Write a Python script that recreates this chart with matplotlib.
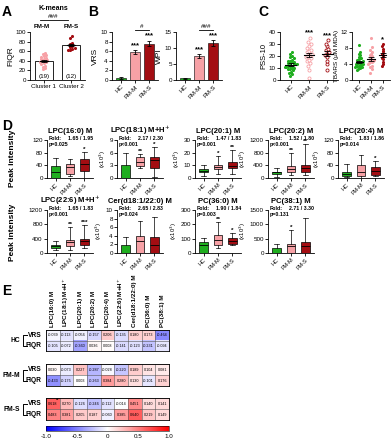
import numpy as np
import matplotlib
matplotlib.use("Agg")
import matplotlib.pyplot as plt

plt.rcParams['font.family'] = ['Liberation Sans', 'DejaVu Sans']
plt.rcParams['font.size'] = 4.5
plt.rcParams['axes.linewidth'] = 0.6
plt.rcParams['xtick.major.width'] = 0.6
plt.rcParams['ytick.major.width'] = 0.6
plt.rcParams['xtick.major.size'] = 2
plt.rcParams['ytick.major.size'] = 2
plt.rcParams['xtick.major.pad'] = 1
plt.rcParams['ytick.major.pad'] = 1

W, H = 392, 440
GREEN = '#1fae1f'
PINK = '#f7a1a6'
DRED = '#a30d12'

# ---------------- data ----------------
# A: K-means FIQR
clusters = ['Cluster 1', 'Cluster 2']
fiqr_c1 = [22, 25, 28, 30, 33, 35, 37, 38, 40, 41, 42, 43, 44, 46, 48, 50, 52, 55, 57]
fiqr_c2 = [62, 63, 65, 66, 68, 70, 71, 73, 75, 78, 88, 92]

# B: bars
groups = ['HC', 'FM-M', 'FM-S']
vrs_mean = [0.5, 5.8, 7.6]
vrs_sem = [0.2, 0.4, 0.6]
wpi_mean = [0.5, 7.5, 11.5]
wpi_sem = [0.2, 0.6, 0.9]

# C: scatter
pss_hc = [3, 5, 6, 7, 8, 9, 9, 10, 10, 11, 11, 12, 12, 12, 13, 13, 13, 14, 14, 15, 15,
          16, 16, 17, 18, 19, 20, 22, 23]
pss_fmm = [2, 8, 12, 14, 16, 17, 18, 19, 20, 21, 22, 23, 24, 25, 27, 28, 30, 32, 35]
pss_fms = [8, 13, 16, 19, 21, 22, 23, 25, 26, 28, 30, 33]
tbars_hc = [2.5, 2.8, 3.0, 3.1, 3.2, 3.3, 3.4, 3.5, 3.6, 3.7, 3.8, 3.9, 4.0, 4.1, 4.2, 4.3,
            4.4, 4.5, 4.6, 4.8, 5.0, 5.2, 5.4, 5.6, 5.8, 6.2, 6.6, 7.0, 8.8]
tbars_fmm = [1.8, 2.8, 3.2, 3.6, 4.0, 4.2, 4.4, 4.6, 4.8, 5.0, 5.3, 5.6, 5.9, 6.2, 6.6, 7.0,
             7.6, 8.2, 10.4]
tbars_fms = [3.4, 4.0, 4.6, 5.2, 5.6, 6.0, 6.4, 6.8, 7.2, 7.8, 8.5, 8.9]

# D: box plots, per group [whislo, q1, med, q3, whishi]
lipids = ['LPC(16:0) M', 'LPC(18:1) M+H$^{+}$', 'LPC(20:1) M', 'LPC(20:2) M', 'LPC(20:4) M',
          'LPC(22:6) M+H$^{+}$', 'Cer(d18:1/22:0) M', 'PC(36:0) M', 'PC(38:1) M']
box_hc = [[0, 0, 18, 37, 63], [0, 0, 0, 3.0, 5.9], [1.2, 4.6, 5.8, 6.9, 10.4],
          [46, 138, 185, 192, 323], [2, 6, 12, 18, 43], [74, 138, 185, 231, 323],
          [0, 0, 0, 1.9, 3.7], [0, 0, 58, 75, 104], [0, 0, 0, 173, 323]]
box_fmm = [[5, 14, 34, 43, 60], [2.4, 2.8, 3.8, 4.9, 5.6], [3.5, 6.9, 8.5, 10.0, 17.3],
           [92, 185, 277, 370, 785], [0, 5, 18, 42, 74], [92, 203, 296, 370, 738],
           [0, 0, 2.9, 4.0, 7.5], [35, 58, 92, 127, 219], [0, 0, 254, 323, 808]]
box_fms = [[0, 23, 43, 60, 83], [0.3, 2.4, 4.3, 4.9, 7.4], [3.5, 7.6, 9.2, 12.7, 22],
           [92, 185, 305, 415, 1060], [5, 9, 23, 34, 54], [138, 231, 323, 388, 785],
           [0, 0, 1.9, 3.7, 8.4], [58, 65, 85, 104, 138], [0, 0, 231, 369, 1211]]
box_ymax = [120, 9, 30, 1200, 120, 1200, 10, 300, 1500]
box_ystep = [40, 3, 10, 400, 40, 400, 2, 100, 500]
fold_txt = ['1.65 / 1.95', '2.17 / 2.30', '1.47 / 1.83', '1.52 / 1.80', '1.83 / 1.86',
            '1.65 / 1.83', '2.65 / 2.83', '1.90 / 1.84', '2.71 / 3.30']
p_txt = ['p=0.025', 'p<0.001', 'p=0.001', 'p<0.001', 'p=0.014',
         'p<0.001', 'p=0.024', 'p=0.003', 'p=0.131']
stars_fmm = ['', '**', '*', '**', '', '**', '', '**', '*']
stars_fms = ['*', '*', '**', '**', '*', '***', '', '*', '']

# E: correlation heatmap
heat_cols = ['LPC(16:0) M', 'LPC(18:1) M+H$^{+}$', 'LPC(20:1) M', 'LPC(20:2) M', 'LPC(20:4) M',
             'LPC(22:6) M+H$^{+}$', 'Cer(d18:1/22:0) M', 'PC(36:0) M', 'PC(38:1) M']
heat_rows = ['VRS', 'FIQR']
hc_vrs = [-0.039, -0.113, -0.056, -0.157, 0.206, -0.135, 0.180, 0.173, -0.464]
hc_fiqr = [-0.105, -0.072, -0.360, 0.036, 0.008, -0.141, -0.123, -0.231, -0.094]
fmm_vrs = [0.030, -0.073, 0.227, -0.287, -0.028, -0.220, 0.189, 0.104, 0.081]
fmm_fiqr = [-0.433, -0.175, 0.003, -0.263, 0.384, 0.280, 0.130, -0.101, 0.176]
fms_vrs = [0.618, 0.270, -0.126, -0.246, -0.112, -0.014, 0.451, 0.140, 0.141]
fms_fiqr = [0.483, 0.381, 0.205, 0.187, -0.060, 0.385, 0.640, 0.219, 0.149]


fig = plt.figure(figsize=(W / 100, H / 100), dpi=100)


def add_ax(l, t, r, b):
    return fig.add_axes([l / W, 1 - b / H, (r - l) / W, (b - t) / H])


def ftext(x, y, s, **kw):
    fig.text(x / W, 1 - y / H, s, **kw)


def style(ax):
    for s in ['top', 'right']:
        ax.spines[s].set_visible(False)


def swarm_x(vals, center, width, nbins):
    # spread points horizontally inside value bins
    vals = np.asarray(vals, float)
    lo, hi = vals.min(), vals.max()
    edges = np.linspace(lo, hi + 1e-9, nbins + 1)
    idx = np.digitize(vals, edges) - 1
    xs = np.zeros(len(vals))
    for b in np.unique(idx):
        m = np.where(idx == b)[0]
        n = len(m)
        offs = (np.arange(n) - (n - 1) / 2) * width
        xs[m] = center + offs
    return xs


# panel letters
for lab, x, y in [('A', 2, 12), ('B', 88, 12), ('C', 258, 12), ('D', 2, 126), ('E', 2, 291)]:
    ftext(x, y, lab, fontsize=10, fontweight='bold', va='center')

# ---------------- A ----------------
ax = add_ax(30, 32, 85, 80)
style(ax)
means = [np.mean(fiqr_c1), np.mean(fiqr_c2)]
sems = [np.std(fiqr_c1) / np.sqrt(len(fiqr_c1)), np.std(fiqr_c2) / np.sqrt(len(fiqr_c2))]
ax.bar([0, 1], means, width=0.65, color='white', edgecolor='black', linewidth=0.6, zorder=1)
ax.scatter(swarm_x(fiqr_c1, 0, 0.09, 7), fiqr_c1, s=5, color=PINK, zorder=2, linewidths=0)
ax.scatter(swarm_x(fiqr_c2, 1, 0.09, 7), fiqr_c2, s=5, color=DRED, zorder=2, linewidths=0)
ax.errorbar([0, 1], means, yerr=sems, fmt='none', ecolor='black', elinewidth=0.6, capsize=2, capthick=0.6, zorder=3)
for i, m in enumerate(means):
    ax.plot([i - 0.15, i + 0.15], [m, m], color='black', lw=0.8, zorder=3)
ax.text(0, 3, '(19)', ha='center', va='bottom', fontsize=4.5)
ax.text(1, 3, '(12)', ha='center', va='bottom', fontsize=4.5)
ax.set_xlim(-0.5, 1.5)
ax.set_ylim(0, 100)
ax.set_yticks(range(0, 101, 20))
ax.set_xticks([0, 1])
ax.set_xticklabels(clusters)
ax.set_ylabel('FIQR', fontsize=6, labelpad=1)
ftext(53, 8, 'K-means', fontsize=5, fontweight='bold', ha='center', va='center')
ftext(53, 17, '###', fontsize=4.5, ha='center', va='center')
fig.add_artist(plt.Line2D([40 / W, 68 / W], [1 - 20 / H, 1 - 20 / H], color='black', lw=0.6))
ftext(42, 27, 'FM-M', fontsize=4.5, fontweight='bold', ha='center', va='center')
ftext(71, 27, 'FM-S', fontsize=4.5, fontweight='bold', ha='center', va='center')

# ---------------- B ----------------
colors3 = [GREEN, PINK, DRED]
for (l, r), mean, sem, ymax, step, lab, hash_ in [
        ((112, 158), vrs_mean, vrs_sem, 10, 2, 'VRS', '#'),
        ((176, 222), wpi_mean, wpi_sem, 15, 5, 'WPI', '###')]:
    ax = add_ax(l, 32, r, 80)
    style(ax)
    x = np.arange(3)
    ax.bar(x, mean, width=0.7, color=colors3, edgecolor='black', linewidth=0.4)
    ax.errorbar(x, mean, yerr=sem, fmt='none', ecolor='black', elinewidth=0.6, capsize=1.5, capthick=0.6)
    for i in [1, 2]:
        ax.text(i, mean[i] + sem[i] + ymax * 0.02, '***', ha='center', va='bottom', fontsize=5.5, fontweight='bold')
    yb = ymax * 1.05
    ax.plot([1, 2], [yb, yb], color='black', lw=0.6, clip_on=False)
    ax.text(1.5, yb + ymax * 0.01, hash_, ha='center', va='bottom', fontsize=4.5)
    ax.set_xlim(-0.6, 2.6)
    ax.set_ylim(0, ymax)
    ax.set_yticks(np.arange(0, ymax + 0.1, step))
    ax.set_xticks(x)
    ax.set_xticklabels(groups, rotation=45, ha='right', rotation_mode='anchor')
    ax.set_ylabel(lab, fontsize=6, labelpad=1)

# ---------------- C ----------------
for (l, r), sets, ymax, step, lab, fills, stars in [
        ((280, 338), [pss_hc, pss_fmm, pss_fms], 40, 10, 'PSS-10', [True, False, False], ['', '***', '***']),
        ((352, 390), [tbars_hc, tbars_fmm, tbars_fms], 12, 4, 'TBARS (μM MDA)', [True, True, True], ['', '', '*'])]:
    ax = add_ax(l, 32, r, 80)
    style(ax)
    for i, (vals, c, f) in enumerate(zip(sets, colors3, fills)):
        xs = swarm_x(vals, i, 0.1, 8)
        if f:
            ax.scatter(xs, vals, s=5, color=c, linewidths=0, zorder=2)
        else:
            ax.scatter(xs, vals, s=5, facecolors='white', edgecolors=c, linewidths=0.6, zorder=2)
        m = np.mean(vals)
        se = np.std(vals) / np.sqrt(len(vals))
        ax.plot([i - 0.3, i + 0.3], [m, m], color='black', lw=0.8, zorder=3)
        ax.errorbar([i], [m], yerr=[se], fmt='none', ecolor='black', elinewidth=0.6, capsize=2, capthick=0.6, zorder=3)
        if stars[i]:
            ax.text(i, max(vals) + ymax * 0.03, stars[i], ha='center', va='bottom', fontsize=5.5, fontweight='bold')
    ax.set_xlim(-0.6, 2.6)
    ax.set_ylim(0, ymax)
    ax.set_yticks(np.arange(0, ymax + 0.1, step))
    ax.set_xticks(range(3))
    ax.set_xticklabels(groups, rotation=45, ha='right', rotation_mode='anchor')
    ax.set_ylabel(lab, fontsize=5.5 if lab == 'PSS-10' else 4.6, labelpad=1)

# ---------------- D ----------------
col_left = [47, 117, 195, 268, 338]
rows_tb = [(140, 178), (210, 253)]
for k in range(9):
    row = 0 if k < 5 else 1
    col = k if k < 5 else k - 5
    l = col_left[col]
    t, b = rows_tb[row]
    ax = add_ax(l, t, l + 46, b)
    style(ax)
    stats = []
    for grp, src in zip(groups, [box_hc, box_fmm, box_fms]):
        wl, q1, med, q3, wh = src[k]
        stats.append(dict(whislo=wl, q1=q1, med=med, q3=q3, whishi=wh, label=grp))
    bp = ax.bxp(stats, positions=[0, 1, 2], widths=0.62, patch_artist=True, showfliers=False,
                boxprops=dict(linewidth=0.5), whiskerprops=dict(linewidth=0.5),
                capprops=dict(linewidth=0.5), medianprops=dict(color='black', linewidth=0.6))
    for patch, c in zip(bp['boxes'], colors3):
        patch.set_facecolor(c)
    ymax = box_ymax[k]
    for i, st in [(1, stars_fmm[k]), (2, stars_fms[k])]:
        if st:
            top = [box_fmm, box_fms][i - 1][k][4]
            ax.text(i, top, st, ha='center', va='bottom', fontsize=4.6, fontweight='bold')
    ax.set_xlim(-0.6, 2.6)
    ax.set_ylim(0, ymax)
    ax.set_yticks(np.arange(0, ymax + 0.01, box_ystep[k]))
    ax.set_xticks(range(3))
    ax.set_xticklabels(groups, rotation=45, ha='right', rotation_mode='anchor', fontsize=4)
    ax.set_title(lipids[k], fontsize=5.5, fontweight='bold', pad=5)
    ax.text(0.03, 1.03, 'Fold:', transform=ax.transAxes, fontsize=3.8, fontweight='bold', va='center')
    ax.text(0.45, 1.03, fold_txt[k], transform=ax.transAxes, fontsize=3.8, fontweight='bold', va='center')
    ax.text(0.03, 0.89, p_txt[k], transform=ax.transAxes, fontsize=3.8, fontweight='bold', va='center')
    if col > 0:
        ax.set_ylabel('(x10$^{3}$)', fontsize=4.2, labelpad=1)
ftext(13, 158, 'Peak intensity', fontsize=6, fontweight='bold', rotation=90, ha='center', va='center')
ftext(13, 232, 'Peak intensity', fontsize=6, fontweight='bold', rotation=90, ha='center', va='center')

# ---------------- E ----------------
hl, hr = 46, 169
group_rows = [('HC', hc_vrs, hc_fiqr, 330, 351), ('FM-M', fmm_vrs, fmm_fiqr, 364, 386),
              ('FM-S', fms_vrs, fms_fiqr, 398, 420)]
for gi, (gname, v1, v2, t, b) in enumerate(group_rows):
    ax = add_ax(hl, t, hr, b)
    data = np.array([v1, v2])
    im = ax.imshow(data, cmap='bwr', vmin=-1, vmax=1, aspect='auto')
    for r in range(2):
        for c in range(9):
            ax.text(c, r, '%.3f' % data[r, c], ha='center', va='center', fontsize=2.7)
    ax.set_xticks(np.arange(-0.5, 9, 1), minor=True)
    ax.set_yticks(np.arange(-0.5, 2, 1), minor=True)
    ax.grid(which='minor', color='#555555', linewidth=0.4)
    ax.tick_params(which='both', length=0)
    ax.set_xticks([])
    ax.set_yticks([])
    for s in ax.spines.values():
        s.set_linewidth(0.6)
    if gi == 0:
        for c, name in enumerate(heat_cols):
            ax.text(c, -0.75, name, rotation=90, ha='center', va='bottom', fontsize=4.5, fontweight='bold')
    if gi == 2:
        ax.text(0.35, -0.25, '*', ha='center', va='center', fontsize=4.5, fontweight='bold')
    ftext(20, (t + b) / 2, gname, fontsize=4.8, fontweight='bold', ha='right', va='center')
    ya = t + (b - t) * 0.25
    yb_ = t + (b - t) * 0.75
    ftext(42, ya, 'VRS', fontsize=4.8, fontweight='bold', ha='right', va='center')
    ftext(42, yb_, 'FIQR', fontsize=4.8, fontweight='bold', ha='right', va='center')
    fig.add_artist(plt.Line2D([27 / W, 23 / W, 23 / W, 27 / W],
                              [1 - ya / H, 1 - ya / H, 1 - yb_ / H, 1 - yb_ / H], color='black', lw=0.7))

cax = add_ax(hl, 426, hr, 431)
cb = fig.colorbar(im, cax=cax, orientation='horizontal', ticks=[-1, -0.5, 0, 0.5, 1])
cb.ax.set_xticklabels(['-1.0', '-0.5', '0', '0.5', '1.0'])
cb.ax.tick_params(labelsize=4.5, length=0, pad=2)
cb.outline.set_linewidth(0.4)

fig.savefig('out.png', dpi=100)
